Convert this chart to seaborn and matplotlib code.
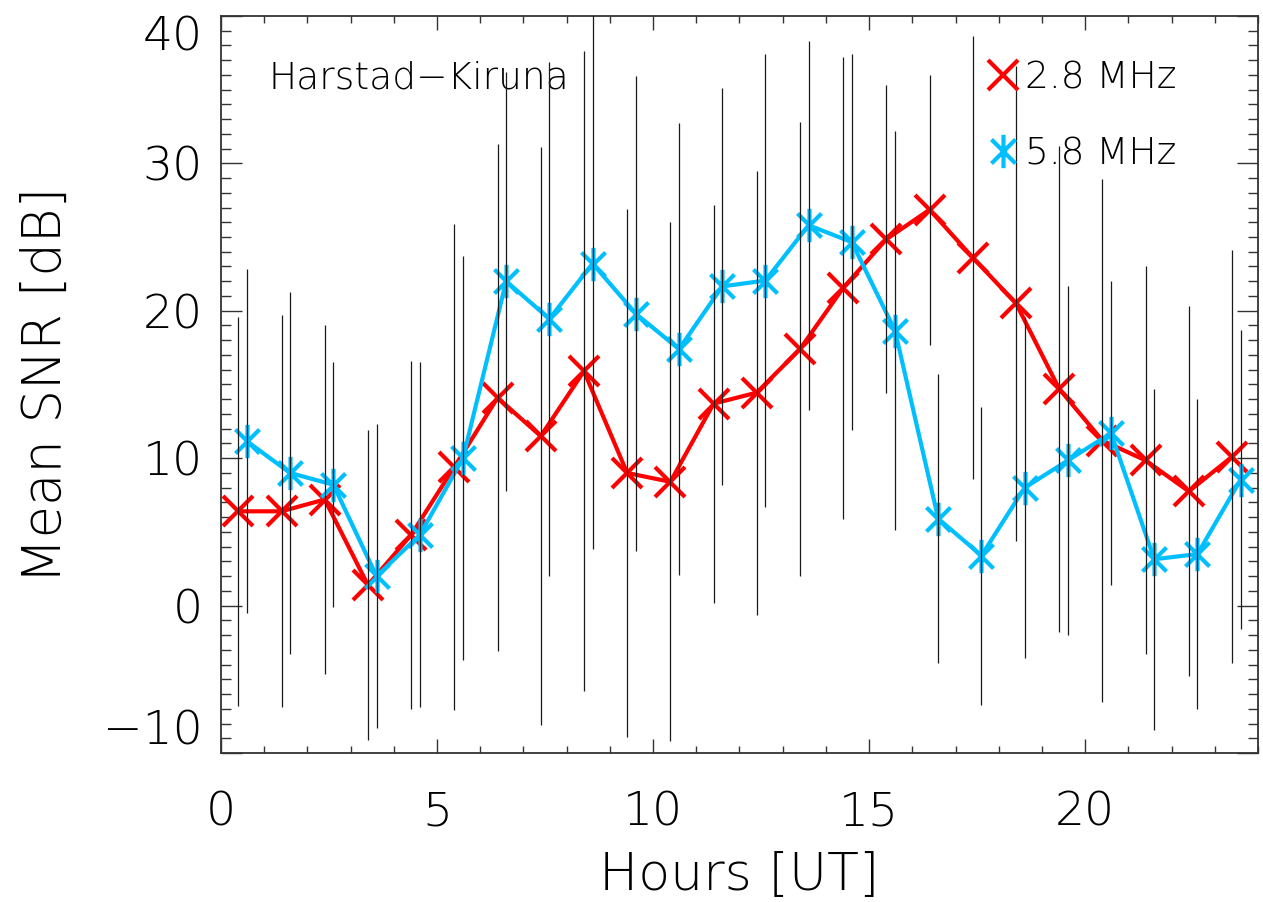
import matplotlib
matplotlib.use("Agg")
import matplotlib.pyplot as plt
from matplotlib.path import Path
from matplotlib.lines import Line2D
from matplotlib.ticker import MultipleLocator
import numpy as np
import seaborn as sns

# ---- data ----
hours = list(range(24))
snr_28 = [6.4, 6.4, 7.2, 1.4, 4.8, 9.4, 14.1, 11.5, 15.9, 9.0, 8.4, 13.7,
          14.45, 17.4, 21.55, 24.85, 26.85, 23.6, 20.5, 14.7, 11.2, 9.85, 7.75, 10.1]
err_28 = [13.2, 13.3, 11.8, 10.5, 11.8, 16.5, 17.2, 19.6, 21.7, 17.9, 17.6, 13.5,
          15.05, 15.4, 15.65, 10.45, 9.15, 15.0, 16.1, 16.5, 17.7, 13.15, 12.55, 14.0]
snr_58 = [11.15, 9.0, 8.2, 2.0, 4.8, 10.0, 22.0, 19.45, 23.2, 19.8, 17.4, 21.65,
          22.05, 25.8, 24.65, 18.65, 5.9, 3.4, 8.0, 9.85, 11.7, 3.15, 3.5, 8.55]
err_58 = [11.65, 12.3, 8.3, 10.3, 11.7, 13.7, 14.2, 17.45, 19.35, 16.1, 15.3, 13.45,
          15.35, 12.5, 12.75, 13.55, 9.8, 10.1, 11.55, 11.85, 10.3, 11.55, 10.5, 10.15]
offset_28 = 0.4
offset_58 = 0.6
series_labels = ["2.8 MHz", "5.8 MHz"]
station_label = "Harstad\u2212Kiruna"
xlabel = "Hours [UT]"
ylabel = "Mean SNR [dB]"

# ---- style ----
sns.set_theme(style="ticks")
plt.rcParams["font.family"] = ["DejaVu Sans"]
plt.rcParams["font.weight"] = "light"
plt.rcParams["axes.labelweight"] = "light"
plt.rcParams["axes.unicode_minus"] = True
plt.rcParams["text.color"] = "black"
plt.rcParams["axes.labelcolor"] = "black"
plt.rcParams["xtick.labelcolor"] = "black"
plt.rcParams["ytick.labelcolor"] = "black"

RED = "#FF0000"
BLUE = "#00BFFF"

ast = Path([(0, -1), (0, 1), (-0.72, -0.72), (0.72, 0.72), (-0.72, 0.72), (0.72, -0.72)],
           [Path.MOVETO, Path.LINETO, Path.MOVETO, Path.LINETO, Path.MOVETO, Path.LINETO])

fig = plt.figure(figsize=(12.63, 9.02), dpi=100)
ax = fig.add_axes([0.175, 0.165, 0.821, 0.8175])

x28 = np.array(hours) + offset_28
x58 = np.array(hours) + offset_58
y28 = np.array(snr_28); e28 = np.array(err_28)
y58 = np.array(snr_58); e58 = np.array(err_58)

LW = 3.0
sns.lineplot(x=x28, y=y28, ax=ax, color=RED, lw=LW, marker="x", markersize=22,
             markeredgewidth=3.0, markeredgecolor=RED, estimator=None, sort=False, zorder=3)
sns.lineplot(x=x58, y=y58, ax=ax, color=BLUE, lw=LW, marker=ast, markersize=24,
             markeredgewidth=3.0, markeredgecolor=BLUE, estimator=None, sort=False, zorder=4)

ax.vlines(x28, y28 - e28, y28 + e28, color="#1a1a1a", lw=0.9, zorder=5)
ax.vlines(x58, y58 - e58, y58 + e58, color="#1a1a1a", lw=0.9, zorder=5)

ax.set_xlim(0, 24)
ax.set_ylim(-10, 40)
ax.xaxis.set_major_locator(MultipleLocator(5))
ax.xaxis.set_minor_locator(MultipleLocator(1))
ax.yaxis.set_major_locator(MultipleLocator(10))
ax.yaxis.set_minor_locator(MultipleLocator(1))

ax.tick_params(which="both", direction="in", top=True, right=True, color="#333333", width=1.0)
ax.tick_params(axis="x", which="major", length=10, pad=27, labelsize=34)
ax.tick_params(axis="x", which="minor", length=5)
ax.tick_params(axis="y", which="major", length=15, pad=13, labelsize=34)
ax.tick_params(axis="y", which="minor", length=7.5)
for s in ax.spines.values():
    s.set_color("#333333")
    s.set_linewidth(1.3)

ax.set_xlabel(xlabel, fontsize=37.5, labelpad=12, fontweight="light")
ax.set_ylabel(ylabel, fontsize=38, labelpad=22, fontweight="light")

fig.canvas.draw()
labels = ax.get_yticklabels()
for lab in labels:
    t = lab.get_text().replace("\u2212", "-")
    if t == "40":
        lab.set_verticalalignment("top")
    elif t == "-10":
        lab.set_verticalalignment("bottom")

ax.text(1.1, 35.8, station_label, fontsize=27, va="center", ha="left", fontweight="light")

handles = [
    Line2D([], [], color=RED, marker="x", linestyle="none", markersize=22, markeredgewidth=3.0),
    Line2D([], [], color=BLUE, marker=ast, linestyle="none", markersize=24, markeredgewidth=3.0),
]
leg = ax.legend(handles, series_labels, loc="upper left", bbox_to_anchor=(0.737, 0.94),
                frameon=False, fontsize=27, handlelength=0.95, handletextpad=0.1,
                labelspacing=1.1, borderpad=0, borderaxespad=0,
                prop={"size": 27, "weight": "light"})

fig.savefig("out.png", dpi=100)
